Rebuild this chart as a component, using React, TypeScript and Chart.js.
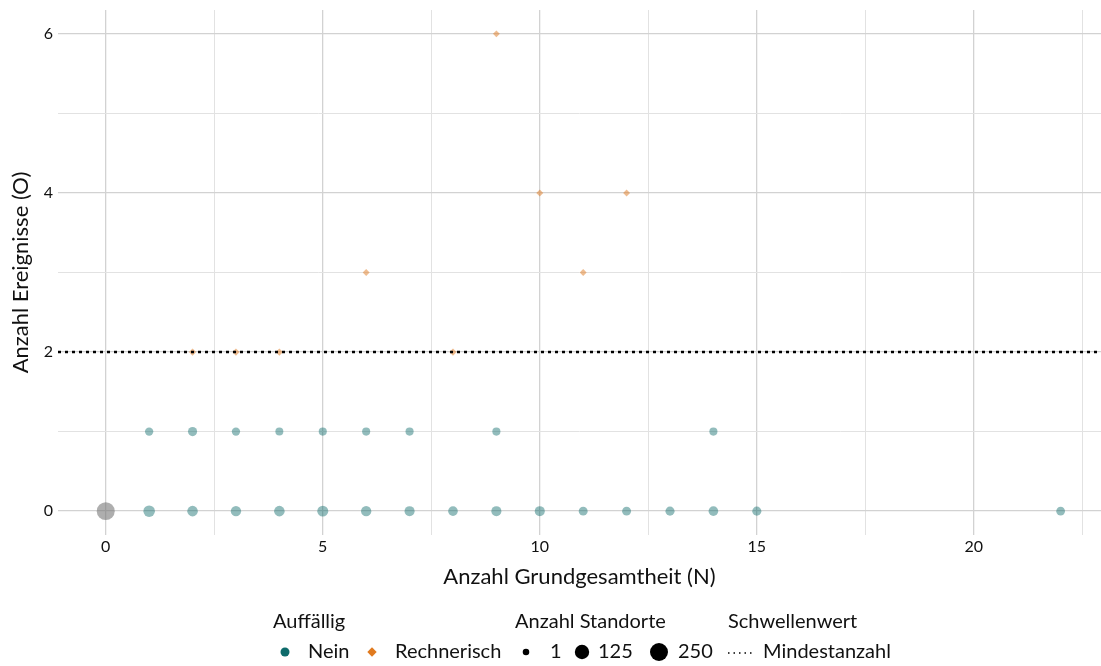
import React, { useEffect, useRef } from 'react';
import { Chart, registerables } from 'chart.js';

Chart.register(...registerables);

// ---- data ----
const neinX = [1, 2, 3, 4, 5, 6, 7, 8, 9, 10, 11, 12, 13, 14, 15, 22, 1, 2, 3, 4, 5, 6, 7, 9, 14];
const neinY = [0, 0, 0, 0, 0, 0, 0, 0, 0, 0, 0, 0, 0, 0, 0, 0, 1, 1, 1, 1, 1, 1, 1, 1, 1];
const neinN = [55, 38, 34, 38, 45, 34, 30, 24, 30, 30, 16, 16, 18, 24, 18, 14, 11, 19, 11, 8, 9, 9, 9, 9, 9];

const rechX = [2, 3, 4, 8, 6, 11, 10, 12, 9];
const rechY = [2, 2, 2, 2, 3, 3, 4, 4, 6];
const rechN = [2, 2, 2, 2, 1, 1, 1, 1, 1];

const otherX = [0];
const otherY = [0];
const otherN = [250];

const thresholdValues = [2];
const sizeLegendValues = [1, 125, 250];
const xGridTicks = [0, 2.5, 5, 7.5, 10, 12.5, 15, 17.5, 20, 22.5];
const xMajorTicks = [0, 5, 10, 15, 20];
const yGridTicks = [0, 1, 2, 3, 4, 5, 6];
const yMajorTicks = [0, 2, 4, 6];

const legendGroupTitles = ['Auffällig', 'Anzahl Standorte', 'Schwellenwert'];
const colorLegendLabels = ['Nein', 'Rechnerisch'];
const thresholdLegendLabel = 'Mindestanzahl';

// ---- style ----
const FONT = 'Lato, "Open Sans", sans-serif';
const TEAL = '#0e6b6b';
const ORANGE = '#e07a1f';
const TEAL_A = 'rgba(14,107,107,0.45)';
const ORANGE_A = 'rgba(224,122,31,0.5)';
const GRAY_A = 'rgba(120,120,120,0.6)';

const radiusFor = (n: number) => 2.9 + 0.385 * Math.sqrt(n);

const toPts = (xs: number[], ys: number[]) => xs.map((x, i) => ({ x, y: ys[i] }));

const legendPlugin = {
  id: 'customLegend',
  afterDraw(chart: any) {
    const ctx = chart.ctx as CanvasRenderingContext2D;
    ctx.save();
    ctx.fillStyle = '#111';
    ctx.textBaseline = 'middle';
    ctx.textAlign = 'left';
    ctx.font = `20px ${FONT}`;
    const ty = 622;
    const iy = 652;
    ctx.fillText(legendGroupTitles[0], 273, ty);
    ctx.fillText(legendGroupTitles[1], 515, ty);
    ctx.fillText(legendGroupTitles[2], 728, ty);

    // color legend
    ctx.fillStyle = TEAL;
    ctx.beginPath();
    ctx.arc(285, iy, 4.5, 0, Math.PI * 2);
    ctx.fill();
    ctx.fillStyle = '#111';
    ctx.fillText(colorLegendLabels[0], 308, iy);
    ctx.fillStyle = ORANGE;
    ctx.beginPath();
    const d = 4.7;
    ctx.moveTo(372 - d, iy);
    ctx.lineTo(372, iy - d);
    ctx.lineTo(372 + d, iy);
    ctx.lineTo(372, iy + d);
    ctx.closePath();
    ctx.fill();
    ctx.fillStyle = '#111';
    ctx.fillText(colorLegendLabels[1], 395, iy);

    // size legend
    const centers = [526, 582, 659];
    const labelsX = [550, 598, 678];
    sizeLegendValues.forEach((v, i) => {
      ctx.fillStyle = '#000';
      ctx.beginPath();
      ctx.arc(centers[i], iy, radiusFor(v), 0, Math.PI * 2);
      ctx.fill();
      ctx.fillStyle = '#111';
      ctx.fillText(String(v), labelsX[i], iy);
    });

    // threshold legend
    ctx.strokeStyle = '#000';
    ctx.lineWidth = 1.5;
    ctx.setLineDash([1.5, 4]);
    ctx.beginPath();
    ctx.moveTo(728, iy + 1);
    ctx.lineTo(754, iy + 1);
    ctx.stroke();
    ctx.setLineDash([]);
    ctx.fillStyle = '#111';
    ctx.fillText(thresholdLegendLabel, 763, iy);
    ctx.restore();
  },
};

const thresholdPlugin = {
  id: 'thresholdLine',
  afterDatasetsDraw(chart: any) {
    const ctx = chart.ctx as CanvasRenderingContext2D;
    const { left, right } = chart.chartArea;
    const ys = chart.scales.y;
    ctx.save();
    ctx.strokeStyle = '#000';
    ctx.lineWidth = 2.6;
    ctx.setLineDash([3, 4]);
    thresholdValues.forEach((t) => {
      const py = ys.getPixelForValue(t);
      ctx.beginPath();
      ctx.moveTo(left, py);
      ctx.lineTo(right, py);
      ctx.stroke();
    });
    ctx.restore();
  },
};

export default function App() {
  const ref = useRef<HTMLCanvasElement | null>(null);

  useEffect(() => {
    document.body.style.margin = '0';
    if (!ref.current) return;
    const chart = new Chart(ref.current, {
      type: 'scatter',
      data: {
        datasets: [
          {
            label: 'other',
            data: toPts(otherX, otherY),
            pointRadius: otherN.map(radiusFor),
            backgroundColor: GRAY_A,
            borderWidth: 0,
            pointStyle: 'circle',
          },
          {
            label: colorLegendLabels[0],
            data: toPts(neinX, neinY),
            pointRadius: neinN.map(radiusFor),
            backgroundColor: TEAL_A,
            borderWidth: 0,
            pointStyle: 'circle',
          },
          {
            label: colorLegendLabels[1],
            data: toPts(rechX, rechY),
            pointRadius: rechN.map((n) => radiusFor(n) * 1.05),
            backgroundColor: ORANGE_A,
            borderWidth: 0,
            pointStyle: 'rectRot',
          },
        ],
      },
      options: {
        responsive: false,
        animation: false,
        devicePixelRatio: 1,
        layout: { autoPadding: false, padding: { left: 0, right: 0, top: 10, bottom: 66 } },
        plugins: { legend: { display: false }, tooltip: { enabled: false } },
        scales: {
          x: {
            type: 'linear',
            min: -1.1,
            max: 22.93,
            border: { display: false },
            grid: {
              drawTicks: false,
              color: (c: any) => (xMajorTicks.includes(c.tick?.value) ? '#d2d2d2' : '#e2e2e2'),
              lineWidth: (c: any) => (xMajorTicks.includes(c.tick?.value) ? 1.3 : 1),
            },
            ticks: {
              padding: 2,
              color: '#111',
              font: { family: FONT, size: 16 },
              maxRotation: 0,
              autoSkip: false,
              callback: (v: any) => (xMajorTicks.includes(Number(v)) ? String(v) : ''),
            },
            afterBuildTicks: (scale: any) => {
              scale.ticks = xGridTicks.map((value) => ({ value }));
            },
            afterFit: (scale: any) => {
              scale.height = 65;
              scale.paddingLeft = 0;
              scale.paddingRight = 0;
            },
            title: {
              display: true,
              text: 'Anzahl Grundgesamtheit (N)',
              color: '#111',
              font: { family: FONT, size: 22 },
              padding: { top: 0, bottom: 10 },
            },
          },
          y: {
            type: 'linear',
            min: -0.3,
            max: 6.3,
            border: { display: false },
            grid: {
              drawTicks: false,
              color: (c: any) => (yMajorTicks.includes(c.tick?.value) ? '#d2d2d2' : '#e2e2e2'),
              lineWidth: (c: any) => (yMajorTicks.includes(c.tick?.value) ? 1.3 : 1),
            },
            ticks: {
              padding: 5,
              color: '#111',
              font: { family: FONT, size: 16 },
              autoSkip: false,
              callback: (v: any) => (yMajorTicks.includes(Number(v)) ? String(v) : ''),
            },
            afterBuildTicks: (scale: any) => {
              scale.ticks = yGridTicks.map((value) => ({ value }));
            },
            afterFit: (scale: any) => {
              scale.width = 58;
              scale.paddingTop = 0;
              scale.paddingBottom = 0;
            },
            title: {
              display: true,
              text: 'Anzahl Ereignisse (O)',
              color: '#111',
              font: { family: FONT, size: 22 },
              padding: { top: 8, bottom: 0 },
            },
          },
        },
      },
      plugins: [thresholdPlugin, legendPlugin],
    } as any);
    return () => chart.destroy();
  }, []);

  return (
    <div style={{ position: 'relative', width: 1101, height: 666 }}>
      <canvas ref={ref} width={1101} height={666} style={{ display: 'block' }} />
    </div>
  );
}
